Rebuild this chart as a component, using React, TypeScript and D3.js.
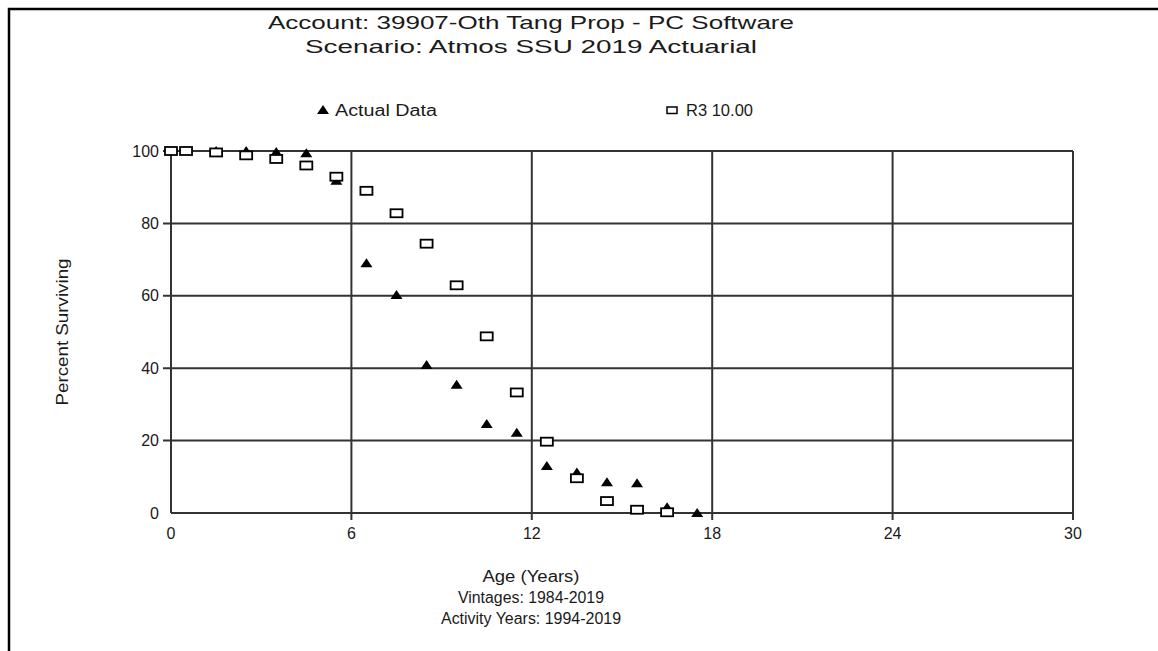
import React from "react";
import * as d3 from "d3";

const titleLines = [
  "Account: 39907-Oth Tang Prop - PC Software",
  "Scenario: Atmos SSU 2019 Actuarial",
];
const xLabelLines = ["Age (Years)", "Vintages: 1984-2019", "Activity Years: 1994-2019"];
const yLabel = "Percent Surviving";
const seriesNames = ["Actual Data", "R3 10.00"];

const xTicks = [0, 6, 12, 18, 24, 30];
const yTicks = [0, 20, 40, 60, 80, 100];

const actualAges = [0.5, 1.5, 2.5, 3.5, 4.5, 5.5, 6.5, 7.5, 8.5, 9.5, 10.5, 11.5, 12.5, 13.5, 14.5, 15.5, 16.5, 17.5];
const actualValues = [100, 100, 100, 99.7, 99.4, 91.8, 69.0, 60.2, 40.9, 35.4, 24.6, 22.2, 13.0, 11.2, 8.5, 8.2, 1.6, 0];

const curveAges = [0, 0.5, 1.5, 2.5, 3.5, 4.5, 5.5, 6.5, 7.5, 8.5, 9.5, 10.5, 11.5, 12.5, 13.5, 14.5, 15.5, 16.5];
const curveValues = [100, 100, 99.6, 98.8, 97.8, 96.0, 92.9, 89.0, 82.8, 74.4, 62.9, 48.8, 33.3, 19.7, 9.6, 3.3, 0.9, 0.2];

const W = 1158;
const H = 651;
const FONT = "'Liberation Sans', Arial, Helvetica, sans-serif";
const INK = "#1a1a1a";
const GRID = "#333";

export default function App() {
  const x = d3.scaleLinear().domain([0, 30]).range([171, 1073]);
  const y = d3.scaleLinear().domain([0, 100]).range([513, 151]);

  const triPath = (cx: number, cy: number) =>
    `M${cx - 6},${cy + 4}L${cx + 6},${cy + 4}L${cx},${cy - 5}Z`;

  return (
    <svg
      width={W}
      height={H}
      style={{ position: "absolute", left: 0, top: 0, background: "#fff" }}
      fontFamily={FONT}
    >
      <rect x={0} y={0} width={W} height={H} fill="#fff" />
      {/* outer frame (top and left visible) */}
      <path d={`M9,${H + 5}V9H${W + 5}`} fill="none" stroke="#000" strokeWidth={2.5} />

      {/* titles */}
      <text x={531} y={29} fontSize={19} textAnchor="middle" fill={INK} textLength={526} lengthAdjust="spacingAndGlyphs">
        {titleLines[0]}
      </text>
      <text x={531} y={53} fontSize={19} textAnchor="middle" fill={INK} textLength={452} lengthAdjust="spacingAndGlyphs">
        {titleLines[1]}
      </text>

      {/* legend */}
      <path d={triPath(323, 110)} fill="#000" />
      <text x={335} y={115.5} fontSize={16} fill={INK} textLength={102} lengthAdjust="spacingAndGlyphs">
        {seriesNames[0]}
      </text>
      <rect x={667} y={107} width={10} height={6.5} fill="#fff" stroke="#000" strokeWidth={1.5} />
      <text x={686} y={115.5} fontSize={16} fill={INK} textLength={67} lengthAdjust="spacingAndGlyphs">
        {seriesNames[1]}
      </text>

      {/* grid */}
      {yTicks.map((t) => (
        <line key={"gy" + t} x1={t === 0 ? x(0) : x(0) - 8} x2={x(30)} y1={y(t)} y2={y(t)} stroke={GRID} strokeWidth={2} />
      ))}
      {xTicks.map((t) => (
        <line key={"gx" + t} x1={x(t)} x2={x(t)} y1={y(100)} y2={t === 0 ? y(0) : y(0) + 7} stroke={GRID} strokeWidth={2} />
      ))}

      {/* tick labels */}
      {yTicks.map((t) => (
        <text key={"ly" + t} x={159} y={y(t) + 5.5} fontSize={16} textAnchor="end" fill={INK}>
          {t}
        </text>
      ))}
      {xTicks.map((t) => (
        <text key={"lx" + t} x={x(t)} y={539} fontSize={16} textAnchor="middle" fill={INK}>
          {t}
        </text>
      ))}

      {/* axis titles */}
      <text
        transform={`translate(68,332) rotate(-90)`}
        fontSize={16}
        textAnchor="middle"
        fill={INK}
        textLength={147}
        lengthAdjust="spacingAndGlyphs"
      >
        {yLabel}
      </text>
      {[582, 603, 624].map((by, i) => (
        <text
          key={"xl" + i}
          x={531}
          y={by}
          fontSize={16}
          textAnchor="middle"
          fill={INK}
          textLength={[97, 146, 180][i]}
          lengthAdjust="spacingAndGlyphs"
        >
          {xLabelLines[i]}
        </text>
      ))}

      {/* actual data triangles (drawn first) */}
      {actualAges.map((a, i) => (
        <path key={"t" + i} d={triPath(x(a), y(actualValues[i]))} fill="#000" />
      ))}
      {/* R3 curve squares */}
      {curveAges.map((a, i) => (
        <rect
          key={"s" + i}
          x={x(a) - 6}
          y={y(curveValues[i]) - 4}
          width={12}
          height={8}
          fill="#fff"
          stroke="#000"
          strokeWidth={1.8}
        />
      ))}
    </svg>
  );
}
